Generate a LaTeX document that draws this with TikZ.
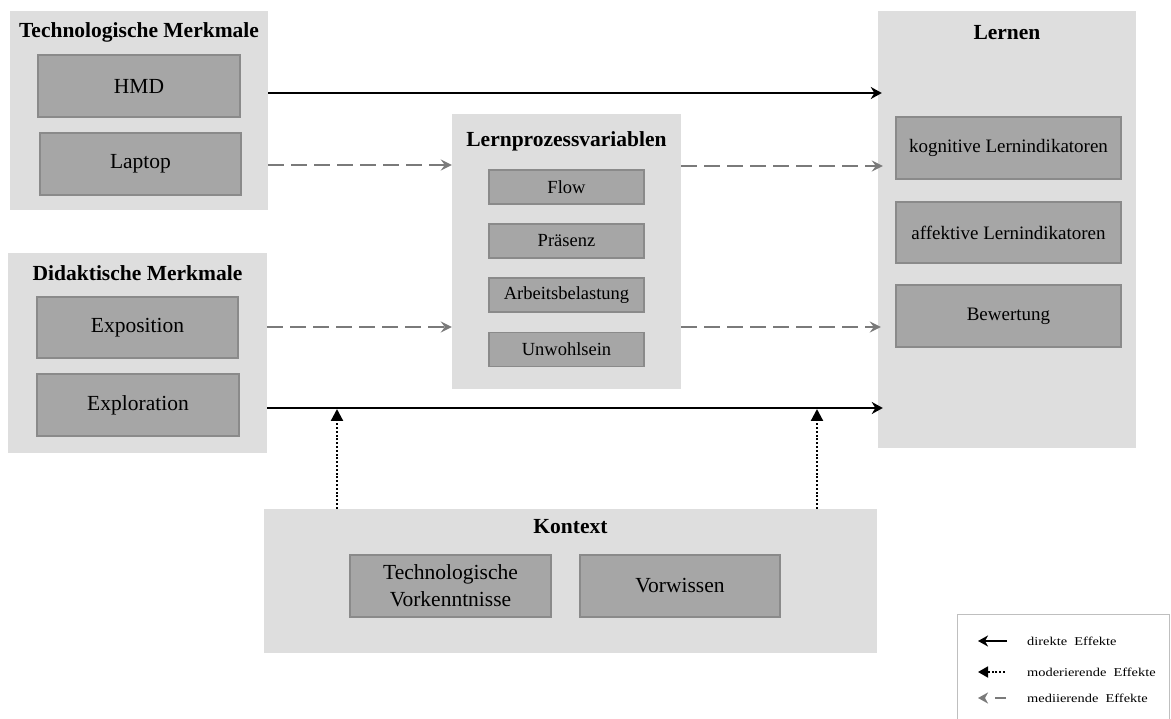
\documentclass[tikz,border=0pt]{standalone}
\usepackage{fontspec}
\setmainfont{Liberation Serif}
\usetikzlibrary{arrows.meta}

\definecolor{panelfill}{HTML}{DEDEDE}
\definecolor{cellfill}{HTML}{A6A6A6}
\definecolor{cellline}{HTML}{8A8A8A}
\definecolor{medgray}{HTML}{7A7A7A}
\definecolor{legline}{HTML}{BFBFBF}

\begin{document}
\begin{tikzpicture}[x=1pt,y=-1pt,
  panelbox/.style n args={2}{rectangle, fill=panelfill, draw=none, inner sep=0pt,
    minimum width=#1pt, minimum height=#2pt},
  cellbox/.style n args={2}{rectangle, fill=cellfill, draw=cellline, line width=1.3pt,
    inner sep=0pt, minimum width=#1pt, minimum height=#2pt, align=center},
  titletext/.style={inner sep=0pt, font=\fontsize{21.5}{24}\selectfont\bfseries},
  bigtext/.style={font=\fontsize{21.5}{27}\selectfont},
  midtext/.style={font=\fontsize{19}{22}\selectfont},
  smalltext/.style={font=\fontsize{18.5}{21}\selectfont},
  legtext/.style={anchor=west, inner sep=0pt, xscale=1.2, font=\fontsize{12}{13}\selectfont},
  direct/.style={black, line width=2pt, -{Stealth[length=11pt,width=12pt,inset=3.5pt]}},
  mediating/.style={medgray, line width=2.4pt, dash pattern=on 16pt off 7pt,
    -{Stealth[length=11pt,width=11pt,inset=4pt]}},
  moderating/.style={black, line width=2.2pt, dash pattern=on 2pt off 1.8pt,
    -{Triangle[length=12pt,width=12pt]}}]

\useasboundingbox (0,0) rectangle (1171,719);

% Technological features
\node[panelbox={258}{199}] (tech) at (139,110.5) {};
\node[titletext] (techT) at (139,32) {Technologische Merkmale};
\node[cellbox={202}{62}, bigtext] (hmd) at (139,86) {HMD};
\node[cellbox={201}{62}, bigtext] (laptop) at (140.5,164) {Laptop};

% Didactic features
\node[panelbox={259}{200}] (did) at (137.5,353) {};
\node[titletext] (didT) at (137.5,273) {Didaktische Merkmale};
\node[cellbox={201}{61}, bigtext] (expo) at (137.5,327.5) {Exposition};
\node[cellbox={202}{62}, bigtext] (explo) at (138,405) {Exploration};

% Learning process variables
\node[panelbox={229}{275}] (lp) at (566.5,251.5) {};
\node[titletext] (lpT) at (566.5,141) {Lernprozessvariablen};
\node[cellbox={155}{34}, smalltext] (flow) at (566.5,187) {Flow};
\node[cellbox={155}{34}, smalltext] (praes) at (566.5,241) {Präsenz};
\node[cellbox={155}{34}, smalltext] (arb) at (566.5,295) {Arbeitsbelastung};
\node[cellbox={155}{34}, smalltext] (unw) at (566.5,349.5) {Unwohlsein};

% Learning outcomes
\node[panelbox={258}{437}] (lernen) at (1007,229.5) {};
\node[titletext] (lernenT) at (1007,33) {Lernen};
\node[cellbox={225}{62}, midtext] (kog) at (1008.5,148) {kognitive Lernindikatoren};
\node[cellbox={225}{61}, midtext] (aff) at (1008.5,232.5) {affektive Lernindikatoren};
\node[cellbox={225}{62}, midtext] (bew) at (1008.5,316) {Bewertung};

% Context
\node[panelbox={613}{144}] (ctx) at (570.5,581) {};
\node[titletext] (ctxT) at (570.5,527) {Kontext};
\node[cellbox={201}{62}, bigtext] (tv) at (450.5,586) {Technologische\\Vorkenntnisse};
\node[cellbox={200}{62}, bigtext] (vw) at (680,586) {Vorwissen};

% Effects
\draw[direct] (tech.east |- 0,93) -- (lernen.west |- 0,93) [shorten >=-4pt];
\draw[mediating] (tech.east |- 0,165) -- (lp.west |- 0,165);
\draw[mediating] (lp.east |- 0,166) -- (lernen.west |- 0,166) [shorten >=-5pt];
\draw[mediating] (did.east |- 0,327) -- (lp.west |- 0,327);
\draw[mediating] (lp.east |- 0,327) -- (lernen.west |- 0,327) [shorten >=-3pt];
\draw[direct] (did.east |- 0,408) -- (lernen.west |- 0,408) [shorten >=-5pt];

% Moderating effects of the context
\coordinate (mod1) at (337,409);
\coordinate (mod2) at (817,409);
\draw[moderating] (ctx.north -| mod1) -- (mod1);
\draw[moderating] (ctx.north -| mod2) -- (mod2);

% Legend
\draw[legline, line width=1pt] (957,730) -- (957,614.5) -- (1169,614.5) -- (1169,730);
\coordinate (l1a) at (1007,641); \coordinate (l1b) at (978,641);
\coordinate (l2a) at (1005,672); \coordinate (l2b) at (978,672);
\coordinate (l3a) at (1006,698); \coordinate (l3b) at (978,698);
\draw[direct, line width=1.7pt, -{Stealth[length=10pt,width=11pt,inset=3pt]}] (l1a) -- (l1b);
\draw[moderating, line width=1.8pt, -{Triangle[length=10pt,width=11pt]}] (l2a) -- (l2b);
\draw[mediating, line width=1.8pt, dash pattern=on 11pt off 10pt,
  -{Stealth[length=10pt,width=11pt,inset=3pt]}] (l3a) -- (l3b);
\node[legtext] (leg1) at (1027,641) {direkte\ \ Effekte};
\node[legtext] (leg2) at (1027,672) {moderierende\ \ Effekte};
\node[legtext] (leg3) at (1027,698) {mediierende\ \ Effekte};
\end{tikzpicture}
\end{document}
